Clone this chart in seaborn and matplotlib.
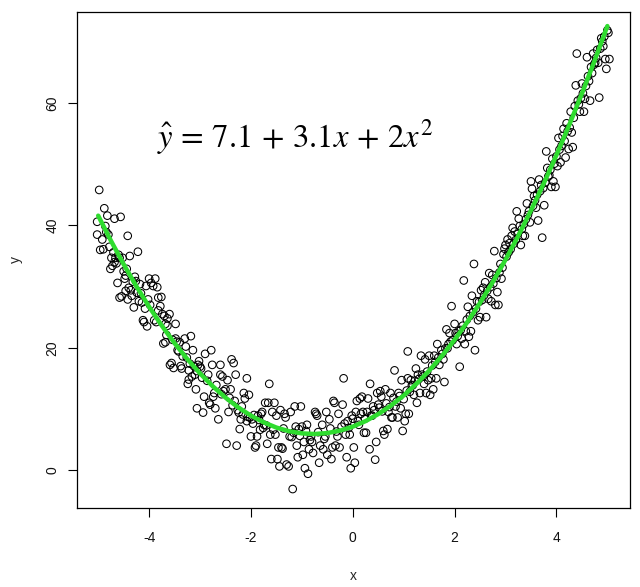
import matplotlib
matplotlib.use("Agg")
import matplotlib.pyplot as plt
import seaborn as sns
import pandas as pd

x_pts = [
 -4.98,-5.02,-5.02,-4.88,-4.82,-4.86,-4.92,-4.96,-4.90,-4.80,-4.78,-4.74,-4.72,-4.76,-4.68,-4.66,-4.68,-4.56,-4.58,-4.52,
 -4.62,-4.48,-4.58,-4.54,-4.42,-4.38,-4.44,-4.36,-4.34,-4.30,-4.28,-4.22,-4.26,-4.18,-4.14,-4.12,-4.10,-4.04,-4.06,-4.00,
 -4.02,-4.42,-4.46,
 -3.96,-3.92,-3.88,-3.90,-3.84,-3.82,-3.76,-3.82,-3.74,-3.70,-3.64,-3.68,-3.60,-3.64,-3.48,-3.72,-3.68,-3.56,-3.59,-3.52,
 -3.48,-3.46,-3.44,-3.40,-3.38,-3.36,-3.30,-3.28,-3.26,-3.22,-3.18,-3.14,-3.24,-3.22,-3.12,-3.16,-3.04,-3.02,-3.08,-3.06,-3.10,
 -3.00,-2.98,-2.94,-2.92,-2.90,-2.84,-2.82,-2.80,-2.78,-2.76,-2.74,-2.70,-2.72,-2.64,-2.60,-2.60,-2.56,-2.54,-2.50,-2.48,
 -2.46,-2.44,-2.40,-2.38,-2.34,-2.32,-2.30,-2.28,-2.26,-2.20,-2.22,-2.18,-2.14,-2.12,-2.08,-2.08,-2.04,-2.02,
 -2.00,-1.98,-1.94,-1.92,-1.90,-1.88,-1.86,-1.82,-1.80,-1.78,-1.74,-1.72,-1.68,-1.66,-1.64,-1.62,-1.60,-1.58,-1.54,-1.52,
 -1.50,-1.48,-1.46,-1.44,-1.42,-1.40,-1.38,-1.34,-1.32,-1.30,-1.26,-1.24,-1.22,-1.18,-1.16,-1.14,-1.12,-1.10,-1.08,-1.06,
 -1.02,-1.00,
 -0.98,-0.96,-0.94,-0.90,-0.88,-0.86,-0.82,-0.80,-0.78,-0.74,-0.72,-0.70,-0.66,-0.64,-0.60,-0.58,-0.54,-0.52,-0.50,-0.46,
 -0.42,-0.40,-0.38,-0.36,-0.34,-0.30,-0.28,-0.26,-0.22,-0.20,-0.18,-0.14,-0.12,-0.10,-0.06,-0.04,-0.02,
 0.02,0.04,0.06,0.08,0.10,0.14,0.18,0.20,0.22,0.26,0.28,0.30,0.33,0.34,0.38,0.40,0.44,0.46,0.48,0.50,
 0.54,0.56,0.60,0.62,0.64,0.68,0.70,0.74,0.76,0.78,0.82,0.84,0.88,0.90,0.94,0.96,0.98,
 1.02,1.04,1.08,1.10,1.08,1.14,1.16,1.20,1.24,1.26,1.28,1.32,1.34,1.36,1.40,1.42,1.44,1.48,1.50,1.52,
 1.54,1.58,1.60,1.64,1.66,1.70,1.74,1.78,1.80,1.84,1.86,1.90,1.94,1.96,
 2.00,2.02,2.04,2.08,2.10,2.14,2.18,2.20,2.22,2.26,2.28,2.32,2.34,2.38,2.40,2.44,2.46,2.50,2.52,2.56,
 2.60,2.62,2.66,2.68,2.72,2.74,2.78,2.80,2.84,2.86,2.90,2.92,2.96,2.98,
 3.00,3.04,3.08,3.12,3.14,3.18,3.22,3.26,3.28,3.30,3.34,3.38,3.42,3.44,3.48,3.50,3.52,3.56,3.60,3.64,
 3.66,3.72,3.76,3.80,3.82,3.86,3.90,3.92,3.94,3.98,
 4.02,4.04,4.08,4.12,4.14,4.18,4.20,4.24,4.28,4.30,4.32,4.36,4.38,4.40,4.42,4.46,4.50,4.54,4.56,4.60,
 4.62,4.66,4.68,4.72,4.76,4.80,4.82,4.84,4.88,4.92,4.96,4.98,5.02,5.04,
 # points lying close to the curve in the dense parts
 -4.84,-4.70,-4.64,-4.60,-4.50,-4.46,-4.40,-4.32,-4.24,-4.20,-4.16,-4.08,-3.98,-3.86,-3.78,-3.66,-3.54,-3.42,-3.34,-3.20,
 -3.06,-2.96,-2.86,-2.68,-2.58,-2.42,-2.36,-2.24,-2.16,-2.06,-1.96,-1.84,-1.76,-1.70,-1.56,-1.36,-1.20,-1.04,-0.92,-0.84,
 -0.68,-0.56,-0.44,-0.32,-0.16,-0.08,0.00,0.12,0.16,0.24,0.36,0.42,0.52,0.58,0.66,0.72,0.80,0.86,0.92,1.00,
 1.06,1.12,1.18,1.22,1.30,1.38,1.46,1.56,1.62,1.68,1.76,1.82,1.88,1.92,2.06,2.12,2.16,2.24,2.30,2.36,
 2.42,2.48,2.54,2.58,2.64,2.70,2.76,2.82,2.88,2.94,3.02,3.06,3.10,3.16,3.20,3.24,3.32,3.36,3.40,3.46,
 3.54,3.58,3.62,3.68,3.70,3.74,3.78,3.84,3.88,3.96,4.00,4.06,4.10,4.16,4.22,4.26,4.34,4.44,4.48,4.52,
 4.58,4.64,4.70,4.74,4.78,4.86,4.90,4.94,5.00,
]
y_pts = [
 45.8,40.6,38.5,42.8,41.6,39.9,37.7,36.0,36.1,38.5,36.5,34.7,33.4,32.9,34.0,34.7,41.1,41.4,34.7,34.7,
 30.6,31.3,28.2,28.4,38.3,35.0,32.9,29.4,28.5,26.6,31.6,35.7,30.9,30.4,27.4,24.5,24.2,23.5,30.1,31.3,
 27.9,27.9,29.3,
 30.6,30.1,31.3,24.5,29.9,28.2,28.3,26.1,25.5,25.2,24.8,23.9,25.5,23.6,23.9,20.7,20.9,17.5,17.2,16.7,
 21.5,21.0,19.6,20.9,17.0,16.6,21.5,20.2,18.4,16.3,21.9,19.6,14.1,14.8,17.0,15.3,17.2,17.8,13.2,10.1,15.6,
 16.9,16.6,9.4,12.0,19.0,15.6,11.0,10.7,19.6,17.2,12.0,10.1,12.6,8.3,17.2,15.6,15.3,12.9,13.2,4.3,
 14.7,9.5,13.2,18.1,17.5,11.3,15.6,4.0,9.8,8.3,6.7,10.4,12.6,11.7,15.0,8.0,12.3,8.6,
 5.5,8.3,9.0,3.7,4.0,5.5,8.9,6.6,9.2,9.5,7.4,11.0,4.3,11.0,14.1,5.8,1.8,9.5,11.0,5.8,
 8.9,1.8,3.7,0.6,9.8,3.7,3.5,9.2,8.6,0.9,0.6,5.5,9.5,-3.1,6.1,10.4,7.1,4.0,2.1,6.7,
 10.4,7.1,
 2.5,4.6,0.3,7.4,-0.6,3.4,5.5,4.6,2.8,9.5,9.2,8.9,1.2,4.0,7.4,3.4,5.5,9.5,2.5,8.3,
 1.8,3.7,11.3,11.0,4.0,5.5,9.2,3.7,7.1,10.7,15.0,5.8,2.1,8.0,5.8,0.3,8.9,
 3.7,1.2,9.5,11.3,8.0,11.7,12.0,9.5,6.1,6.1,9.5,11.7,3.4,14.1,8.9,10.4,1.7,4.6,12.6,10.7,
 12.9,12.0,6.4,5.8,13.2,6.7,9.5,12.6,8.6,8.6,16.3,10.4,8.6,12.6,10.1,14.7,6.4,
 8.0,9.2,15.0,9.2,19.4,14.7,13.8,12.3,16.6,11.0,15.6,12.6,18.7,15.6,14.1,18.1,12.6,14.7,18.7,12.3,
 15.0,13.2,18.7,15.0,20.6,17.2,19.6,18.1,14.4,23.0,19.9,22.4,26.8,21.2,
 23.9,22.4,20.6,22.7,16.9,21.5,31.0,20.6,22.7,26.7,21.8,22.7,28.5,33.7,19.6,27.6,24.5,25.0,29.4,29.8,
 30.7,25.0,28.0,32.2,27.6,31.9,35.8,27.0,29.1,27.0,33.7,31.3,35.3,36.2,
 36.8,37.7,37.1,38.3,39.6,39.0,42.3,41.1,39.9,36.8,38.3,38.3,43.6,41.7,40.5,47.2,46.0,44.8,42.9,40.8,
 47.5,38.0,43.3,52.1,49.4,48.2,46.3,50.9,47.2,46.3,
 49.7,54.3,50.3,54.6,55.8,51.1,56.7,52.5,58.6,55.2,52.8,59.5,62.9,68.1,60.4,58.6,63.2,58.6,60.7,67.5,
 64.4,60.4,65.9,68.1,66.6,68.7,66.6,60.9,70.6,69.3,67.2,65.6,71.5,67.2,
 38.9,35.6,33.8,35.2,32.5,31.8,29.8,30.8,29.0,27.6,28.9,26.4,27.0,24.2,26.8,22.1,21.3,19.4,18.6,17.4,
 16.2,15.1,14.6,13.9,12.4,11.8,10.6,9.4,9.1,8.7,7.6,8.2,6.9,7.3,6.6,6.8,5.4,5.6,6.4,4.9,
 6.2,5.1,6.8,6.3,7.6,6.9,8.4,7.4,9.2,8.4,8.9,9.8,10.2,9.6,10.9,10.3,11.8,11.2,12.1,11.6,
 13.0,12.8,13.9,14.6,14.9,15.3,16.1,17.1,17.7,18.4,19.0,19.9,20.6,21.0,21.9,22.9,23.6,24.6,25.2,25.8,
 26.4,27.5,27.8,28.6,29.3,29.9,30.5,31.4,32.3,33.1,34.9,35.6,36.1,37.0,37.6,38.6,39.4,40.2,41.0,42.3,
 43.2,44.1,45.0,45.6,46.6,46.1,47.0,48.0,49.1,50.1,51.3,52.4,53.0,53.8,55.4,56.0,57.6,59.8,60.8,61.6,
 62.8,63.6,64.9,66.3,67.4,68.9,70.1,70.9,71.9,
]

# ---- fitted curve ----
x_fit = [-5.0,-4.75,-4.5,-4.25,-4.0,-3.75,-3.5,-3.25,-3.0,-2.75,-2.5,-2.25,-2.0,-1.75,-1.5,-1.25,-1.0,-0.75,-0.5,-0.25,
         0.0,0.25,0.5,0.75,1.0,1.25,1.5,1.75,2.0,2.25,2.5,2.75,3.0,3.25,3.5,3.75,4.0,4.25,4.5,4.75,5.0]
y_fit = [41.6,37.5,33.65,30.05,26.7,23.6,20.75,18.15,15.8,13.7,11.85,10.25,8.9,7.8,6.95,6.35,6.0,5.9,6.05,6.45,
         7.1,8.0,9.15,10.55,12.2,14.1,16.25,18.65,21.3,24.2,27.35,30.75,34.4,38.3,42.45,46.85,51.5,56.4,61.55,66.95,72.6]

x_ticks = [-4, -2, 0, 2, 4]
y_ticks = [0, 20, 40, 60]
equation = r'$\hat{y}\,=\,7.1\,+\,3.1x\,+\,2x^{2}$'

sns.set_theme(style="white")
plt.rcParams['font.family'] = ['Liberation Sans', 'DejaVu Sans']
plt.rcParams['mathtext.fontset'] = 'stix'

fig = plt.figure(figsize=(6.4, 5.87), dpi=100)
ax = fig.add_axes([0.120, 0.1346, 0.864, 0.845])

pts = pd.DataFrame({'x': x_pts, 'y': y_pts})
fit = pd.DataFrame({'x': x_fit, 'y': y_fit})

sns.scatterplot(data=pts, x='x', y='y', ax=ax, marker='o', s=30,
                facecolor='none', edgecolor='black', linewidth=0.75, zorder=2)
sns.lineplot(data=fit, x='x', y='y', ax=ax, color='#2fdc2f', linewidth=3.2,
             zorder=3, sort=True, estimator=None)

ax.set_xlim(-5.42, 5.44)
ax.set_ylim(-6.2, 74.9)
ax.set_xticks(x_ticks)
ax.set_xticklabels([str(t) for t in x_ticks])
ax.set_yticks(y_ticks)
ax.set_yticklabels([str(t) for t in y_ticks], rotation=90, va='center')
ax.tick_params(axis='both', direction='out', length=6.5, width=0.8, color='black',
               labelsize=10, labelcolor='#111111', bottom=True, left=True)
ax.tick_params(axis='x', pad=10)
ax.tick_params(axis='y', pad=6)
for s in ax.spines.values():
    s.set_color('black')
    s.set_linewidth(0.9)
    s.set_visible(True)

ax.set_xlabel('x', fontsize=10, labelpad=17)
ax.set_ylabel('y', fontsize=10, labelpad=16)

ax.text(-3.85, 54.5, equation, fontsize=23.5, ha='left', va='center', color='black')

fig.savefig('out.png', dpi=100)
